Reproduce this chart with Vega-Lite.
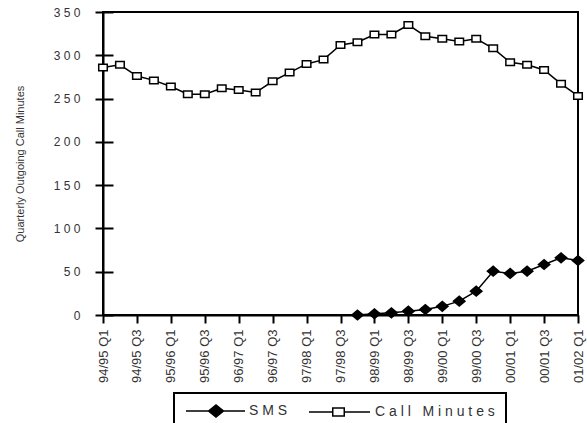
{
  "$schema": "https://vega.github.io/schema/vega-lite/v6.json",
  "width": 475,
  "height": 303,
  "autosize": {"type": "none"},
  "padding": {"left": 103, "top": 12, "right": 9, "bottom": 108},
  "background": "white",
  "config": {
    "view": {"stroke": "black", "strokeWidth": 2},
    "font": "Liberation Sans",
    "axis": {
      "domainColor": "black", "domainWidth": 2, "tickColor": "black", "tickWidth": 2,
      "grid": false, "labelColor": "#333", "labelFont": "Liberation Sans", "titleFont": "Liberation Sans"
    }
  },
  "data": {
    "values": [
      {"quarter": "94/95 Q1", "series": "Call Minutes", "value": 286},
      {"quarter": "94/95 Q2", "series": "Call Minutes", "value": 289},
      {"quarter": "94/95 Q3", "series": "Call Minutes", "value": 276},
      {"quarter": "94/95 Q4", "series": "Call Minutes", "value": 271},
      {"quarter": "95/96 Q1", "series": "Call Minutes", "value": 264},
      {"quarter": "95/96 Q2", "series": "Call Minutes", "value": 255},
      {"quarter": "95/96 Q3", "series": "Call Minutes", "value": 255},
      {"quarter": "95/96 Q4", "series": "Call Minutes", "value": 262},
      {"quarter": "96/97 Q1", "series": "Call Minutes", "value": 260},
      {"quarter": "96/97 Q2", "series": "Call Minutes", "value": 257},
      {"quarter": "96/97 Q3", "series": "Call Minutes", "value": 270},
      {"quarter": "96/97 Q4", "series": "Call Minutes", "value": 280},
      {"quarter": "97/98 Q1", "series": "Call Minutes", "value": 290},
      {"quarter": "97/98 Q2", "series": "Call Minutes", "value": 295},
      {"quarter": "97/98 Q3", "series": "Call Minutes", "value": 312},
      {"quarter": "97/98 Q4", "series": "Call Minutes", "value": 315},
      {"quarter": "98/99 Q1", "series": "Call Minutes", "value": 324},
      {"quarter": "98/99 Q2", "series": "Call Minutes", "value": 324},
      {"quarter": "98/99 Q3", "series": "Call Minutes", "value": 335},
      {"quarter": "98/99 Q4", "series": "Call Minutes", "value": 322},
      {"quarter": "99/00 Q1", "series": "Call Minutes", "value": 319},
      {"quarter": "99/00 Q2", "series": "Call Minutes", "value": 316},
      {"quarter": "99/00 Q3", "series": "Call Minutes", "value": 319},
      {"quarter": "99/00 Q4", "series": "Call Minutes", "value": 308},
      {"quarter": "00/01 Q1", "series": "Call Minutes", "value": 292},
      {"quarter": "00/01 Q2", "series": "Call Minutes", "value": 289},
      {"quarter": "00/01 Q3", "series": "Call Minutes", "value": 283},
      {"quarter": "00/01 Q4", "series": "Call Minutes", "value": 267},
      {"quarter": "01/02 Q1", "series": "Call Minutes", "value": 253},
      {"quarter": "97/98 Q4", "series": "SMS", "value": 0},
      {"quarter": "98/99 Q1", "series": "SMS", "value": 1.4},
      {"quarter": "98/99 Q2", "series": "SMS", "value": 2.5},
      {"quarter": "98/99 Q3", "series": "SMS", "value": 4.4},
      {"quarter": "98/99 Q4", "series": "SMS", "value": 6.4},
      {"quarter": "99/00 Q1", "series": "SMS", "value": 10},
      {"quarter": "99/00 Q2", "series": "SMS", "value": 16},
      {"quarter": "99/00 Q3", "series": "SMS", "value": 27.5},
      {"quarter": "99/00 Q4", "series": "SMS", "value": 50.6},
      {"quarter": "00/01 Q1", "series": "SMS", "value": 48},
      {"quarter": "00/01 Q2", "series": "SMS", "value": 50.6},
      {"quarter": "00/01 Q3", "series": "SMS", "value": 58.3},
      {"quarter": "00/01 Q4", "series": "SMS", "value": 66},
      {"quarter": "01/02 Q1", "series": "SMS", "value": 63}
    ]
  },
  "encoding": {
    "x": {
      "field": "quarter", "type": "ordinal",
      "scale": {"type": "point", "padding": 0, "domain": ["94/95 Q1","94/95 Q2","94/95 Q3","94/95 Q4","95/96 Q1","95/96 Q2","95/96 Q3","95/96 Q4","96/97 Q1","96/97 Q2","96/97 Q3","96/97 Q4","97/98 Q1","97/98 Q2","97/98 Q3","97/98 Q4","98/99 Q1","98/99 Q2","98/99 Q3","98/99 Q4","99/00 Q1","99/00 Q2","99/00 Q3","99/00 Q4","00/01 Q1","00/01 Q2","00/01 Q3","00/01 Q4","01/02 Q1"]},
      "axis": {
        "title": null,
        "values": ["94/95 Q1","94/95 Q3","95/96 Q1","95/96 Q3","96/97 Q1","96/97 Q3","97/98 Q1","97/98 Q3","98/99 Q1","98/99 Q3","99/00 Q1","99/00 Q3","00/01 Q1","00/01 Q3","01/02 Q1"],
        "labelAngle": 270, "labelFontSize": 13, "tickSize": 8, "labelPadding": 6
      }
    },
    "y": {
      "field": "value", "type": "quantitative",
      "scale": {"domain": [0, 350], "nice": false},
      "axis": {
        "title": "Quarterly Outgoing Call Minutes",
        "titleFontSize": 11, "titleFontWeight": "normal", "titleColor": "#333", "titlePadding": 28,
        "values": [0, 50, 100, 150, 200, 250, 300, 350],
        "labelExpr": "join(split(datum.label, ''), '\u00a0')",
        "labelFontSize": 12, "tickSize": 8, "labelPadding": 15,
        "encoding": {"ticks": {"x": {"value": 10}}}
      }
    }
  },
  "layer": [
    {
      "mark": {"type": "line", "strokeWidth": 1.5},
      "encoding": {
        "color": {
          "field": "series", "type": "nominal",
          "scale": {"domain": ["SMS", "Call Minutes"], "range": ["black", "black"]},
          "legend": {
            "title": null, "orient": "none", "legendX": 71, "legendY": 381, "direction": "horizontal",
            "strokeColor": "black", "padding": 11,
            "symbolSize": 100, "symbolStrokeWidth": 1.5,
            "symbolOffset": 24, "labelOffset": 26, "columnPadding": 18,
            "labelFontSize": 14, "labelColor": "#333", "labelFont": "Liberation Sans",
            "labelExpr": "join(split(datum.label, ''), '\u00a0')",
            "encoding": {
              "legend": {"strokeWidth": {"value": 2}},
              "symbols": {
                "strokeWidth": {"value": 1.5},
                "fill": {"value": {"expr": "datum.value === 'SMS' ? 'black' : 'white'"}},
                "fillOpacity": {"value": 1},
                "shape": {"value": {"expr": "datum.value === 'SMS' ? 'M-6,0H5.8M-1.5,0L0,-1.2L1.5,0L0,1.2Z' : 'M-6.6,0H-1.85M0.45,0H5.6M-1.85,-0.8H0.45V0.8H-1.85Z'"}}
              }
            }
          }
        }
      }
    },
    {
      "mark": {"type": "point", "filled": true, "opacity": 1, "stroke": "black", "strokeWidth": 1.5, "size": 130},
      "encoding": {
        "shape": {
          "field": "series", "type": "nominal",
          "scale": {"domain": ["Call Minutes", "SMS"], "range": ["M-0.75,-0.57H0.75V0.57H-0.75Z", "M-1,0L0,-0.85L1,0L0,0.85Z"]},
          "legend": null
        },
        "fill": {
          "field": "series", "type": "nominal",
          "scale": {"domain": ["Call Minutes", "SMS"], "range": ["white", "black"]},
          "legend": null
        }
      }
    }
  ]
}
